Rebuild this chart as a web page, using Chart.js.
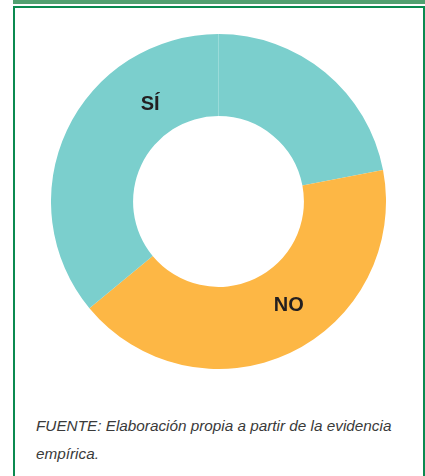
<!DOCTYPE html>
<html lang="es">
<head>
<meta charset="utf-8">
<title>SÍ / NO</title>
<script src="https://cdn.jsdelivr.net/npm/chart.js@4/dist/chart.umd.min.js"></script>
<style>
  html, body { margin:0; padding:0; background:#fff; }
  body { width:425px; height:476px; position:relative; overflow:hidden; font-family:'Liberation Sans', Arial, sans-serif; }
  .topbar { position:absolute; left:13px; top:0; width:412px; height:4px; background:#52a070; }
  .box { position:absolute; left:13px; top:6px; width:408px; height:480px; border:2px solid #0b8a50; border-bottom:none; }
  .chartWrap { position:absolute; left:51px; top:34px; width:335px; height:335px; }
  .fuente { position:absolute; left:36px; top:412px; width:370px; margin:0; font-style:italic; font-size:15.3px; line-height:28px; color:#3a3a3a; }
</style>
</head>
<body>
<div class="topbar"></div>
<div class="box"></div>
<div class="chartWrap"><canvas id="chartSiNo" width="335" height="335"></canvas></div>
<p class="fuente">FUENTE: Elaboración propia a partir de la evidencia empírica.</p>

<script>
// datos (porcentaje del anillo, empezando arriba y en sentido horario)
const categories = ['SÍ', 'NO', 'SÍ'];
const values = [22, 42, 36];
const colors = ['#7bcfcd', '#fdb745', '#7bcfcd'];

// etiquetas: qué arco, en qué fracción del ángulo y del grosor del anillo
const labelSpots = [
  { index: 2, angleFrac: 0.73, radiusFrac: 0.41 },
  { index: 1, angleFrac: 0.44, radiusFrac: 0.48 }
];

const arcLabels = {
  id: 'arcLabels',
  afterDatasetsDraw(chart) {
    const ctx = chart.ctx;
    const arcs = chart.getDatasetMeta(0).data;
    ctx.save();
    ctx.font = 'bold 20px "Liberation Sans", Arial, sans-serif';
    ctx.fillStyle = '#231f20';
    ctx.textAlign = 'center';
    ctx.textBaseline = 'middle';
    labelSpots.forEach(s => {
      const a = arcs[s.index];
      const ang = a.startAngle + (a.endAngle - a.startAngle) * s.angleFrac;
      const r = a.innerRadius + (a.outerRadius - a.innerRadius) * s.radiusFrac;
      ctx.fillText(categories[s.index], a.x + Math.cos(ang) * r, a.y + Math.sin(ang) * r + 1);
    });
    ctx.restore();
  }
};

new Chart(document.getElementById('chartSiNo'), {
  type: 'doughnut',
  data: {
    labels: categories,
    datasets: [{ data: values, backgroundColor: colors, borderWidth: 0, hoverOffset: 0 }]
  },
  options: {
    responsive: false,
    animation: false,
    cutout: '51%',
    layout: { padding: 0 },
    plugins: { legend: { display: false }, tooltip: { enabled: false } }
  },
  plugins: [arcLabels]
});
</script>
</body>
</html>
